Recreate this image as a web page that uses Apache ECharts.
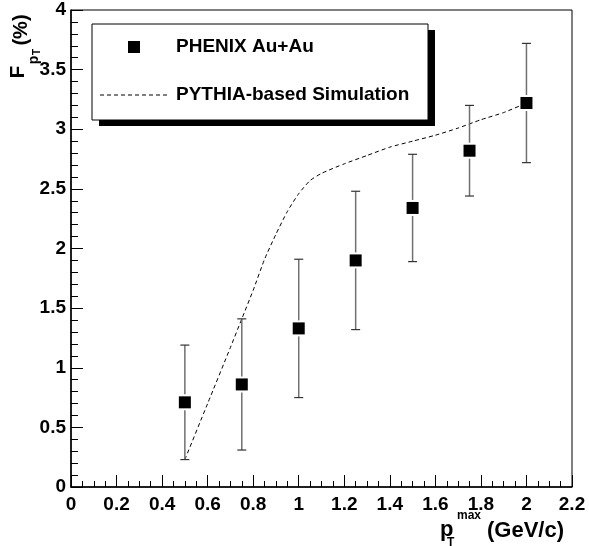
<!DOCTYPE html>
<html>
<head>
<meta charset="utf-8">
<script src="https://cdn.jsdelivr.net/npm/echarts@6/dist/echarts.min.js"></script>
<style>html,body{margin:0;padding:0;background:#fff;}#c{width:589px;height:546px;}</style>
</head>
<body>
<div id="c"></div>
<script>
// PHENIX Au+Au data points
const ptMax = [0.5, 0.75, 1.0, 1.25, 1.5, 1.75, 2.0];
const fPt = [0.71, 0.86, 1.33, 1.90, 2.34, 2.82, 3.22];
const fErr = [0.48, 0.55, 0.58, 0.58, 0.45, 0.38, 0.50];
// PYTHIA-based simulation curve
const simX = [0.5, 0.6, 0.7, 0.75, 0.8, 0.85, 0.9, 0.95, 1.0, 1.05, 1.1, 1.2, 1.3, 1.4, 1.5, 1.6, 1.7, 1.8, 1.9, 2.0];
const simY = [0.23, 0.70, 1.17, 1.41, 1.65, 1.91, 2.12, 2.31, 2.46, 2.57, 2.63, 2.71, 2.78, 2.85, 2.90, 2.95, 3.01, 3.08, 3.14, 3.22];
const legendLabels = ['PHENIX Au+Au', 'PYTHIA-based Simulation'];

const FONT = '"Liberation Sans", Arial, Helvetica, sans-serif';
const chart = echarts.init(document.getElementById('c'));

const pts = ptMax.map((x, i) => [x, fPt[i], fErr[i]]);
const sim = simX.map((x, i) => [x, simY[i]]);

chart.setOption({
  animation: false,
  backgroundColor: '#fff',
  grid: { left: 71, right: 17, top: 10, bottom: 59, show: true, borderColor: '#000', borderWidth: 1 },
  xAxis: {
    type: 'value', min: 0, max: 2.2, interval: 0.2,
    axisLine: { lineStyle: { color: '#000', width: 1.5 } },
    axisTick: { inside: true, length: 12, lineStyle: { color: '#000', width: 1 } },
    minorTick: { show: true, splitNumber: 4, length: 6, lineStyle: { color: '#000', width: 1 } },
    splitLine: { show: false },
    axisLabel: { color: '#000', fontFamily: FONT, fontWeight: 'bold', fontSize: 19, margin: 8,
      formatter: v => String(Math.round(v * 10) / 10) }
  },
  yAxis: {
    type: 'value', min: 0, max: 4, interval: 0.5,
    axisLine: { lineStyle: { color: '#000', width: 1.5 } },
    axisTick: { inside: true, length: 12, lineStyle: { color: '#000', width: 1 } },
    minorTick: { show: true, splitNumber: 5, length: 7, lineStyle: { color: '#000', width: 1 } },
    splitLine: { show: false },
    axisLabel: { color: '#000', fontFamily: FONT, fontWeight: 'bold', fontSize: 19, margin: 5,
      formatter: v => String(Math.round(v * 10) / 10) }
  },
  series: [
    {
      type: 'line', data: sim, symbol: 'none', smooth: 0.2, z: 2,
      lineStyle: { color: '#000', width: 1, type: [4, 3] }
    },
    {
      type: 'custom', data: pts, z: 3,
      renderItem: function (params, api) {
        const x = api.value(0), y = api.value(1), e = api.value(2);
        const c = api.coord([x, y]);
        const hi = api.coord([x, y + e]);
        const lo = api.coord([x, y - e]);
        const gap = 8, cap = 4.5;
        const st = { stroke: '#707070', lineWidth: 1.5 };
        const cs = { stroke: '#333', lineWidth: 1.2 };
        return {
          type: 'group', children: [
            { type: 'line', shape: { x1: c[0], y1: hi[1], x2: c[0], y2: c[1] - gap }, style: st },
            { type: 'line', shape: { x1: c[0], y1: c[1] + gap, x2: c[0], y2: lo[1] }, style: st },
            { type: 'line', shape: { x1: c[0] - cap, y1: hi[1], x2: c[0] + cap, y2: hi[1] }, style: cs },
            { type: 'line', shape: { x1: c[0] - cap, y1: lo[1], x2: c[0] + cap, y2: lo[1] }, style: cs }
          ]
        };
      }
    },
    {
      type: 'scatter', data: pts.map(p => [p[0], p[1]]), symbol: 'rect', symbolSize: 12, z: 4,
      itemStyle: { color: '#000', opacity: 1 }
    }
  ],
  graphic: [
    // legend shadow and box
    { type: 'rect', shape: { x: 99, y: 30, width: 336, height: 96 }, style: { fill: '#000' }, z: 10 },
    { type: 'rect', shape: { x: 92, y: 24, width: 336, height: 96 }, style: { fill: '#fff', stroke: '#000', lineWidth: 1 }, z: 11 },
    { type: 'rect', shape: { x: 128, y: 41, width: 12, height: 12 }, style: { fill: '#000' }, z: 12 },
    { type: 'line', shape: { x1: 100, y1: 95, x2: 170, y2: 95 }, style: { stroke: '#000', lineWidth: 1, lineDash: [4, 3] }, z: 12 },
    { type: 'text', x: 176, y: 47, z: 12, style: { text: legendLabels[0], fill: '#000', font: 'bold 19px ' + FONT, textAlign: 'left', textVerticalAlign: 'middle' } },
    { type: 'text', x: 176, y: 95, z: 12, style: { text: legendLabels[1], fill: '#000', font: 'bold 19px ' + FONT, textAlign: 'left', textVerticalAlign: 'middle' } },
    // y axis title F_{p_T} (%)
    { type: 'text', x: 18, y: 72, rotation: Math.PI / 2, style: { text: 'F', fill: '#000', font: 'bold 21px ' + FONT, textAlign: 'center', textVerticalAlign: 'middle' } },
    { type: 'text', x: 34, y: 60, rotation: Math.PI / 2, style: { text: 'p', fill: '#000', font: 'bold 14px ' + FONT, textAlign: 'center', textVerticalAlign: 'middle' } },
    { type: 'text', x: 37, y: 52, rotation: Math.PI / 2, style: { text: 'T', fill: '#000', font: 'bold 10px ' + FONT, textAlign: 'center', textVerticalAlign: 'middle' } },
    { type: 'text', x: 21, y: 30, rotation: Math.PI / 2, style: { text: '(%)', fill: '#000', font: 'bold 20px ' + FONT, textAlign: 'center', textVerticalAlign: 'middle' } },
    // x axis title p_T^max (GeV/c)
    { type: 'text', x: 440, y: 530, style: { text: 'p', fill: '#000', font: 'bold 22px ' + FONT, textAlign: 'left', textVerticalAlign: 'middle' } },
    { type: 'text', x: 447, y: 543, style: { text: 'T', fill: '#000', font: 'bold 12px ' + FONT, textAlign: 'left', textVerticalAlign: 'middle' } },
    { type: 'text', x: 457, y: 516, style: { text: 'max', fill: '#000', font: 'bold 12px ' + FONT, textAlign: 'left', textVerticalAlign: 'middle' } },
    { type: 'text', x: 564, y: 531, style: { text: '(GeV/c)', fill: '#000', font: 'bold 22px ' + FONT, textAlign: 'right', textVerticalAlign: 'middle' } }
  ]
});
</script>
</body>
</html>
